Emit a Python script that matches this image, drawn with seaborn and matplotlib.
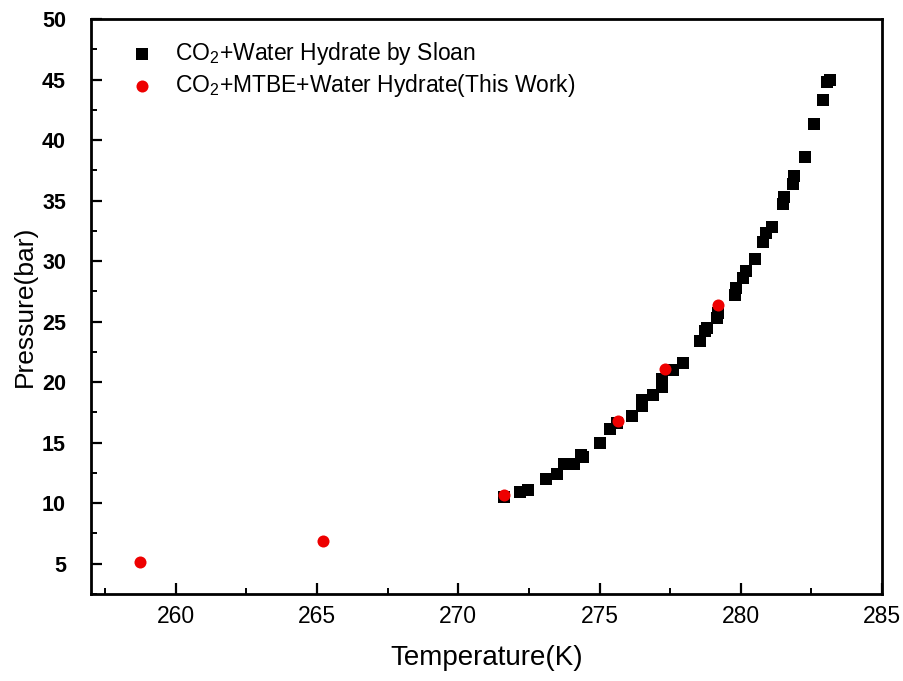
import matplotlib
matplotlib.use("Agg")
import matplotlib.pyplot as plt
import seaborn as sns
import pandas as pd
from matplotlib.ticker import MultipleLocator

# CO2 + water hydrate equilibrium data (Sloan)
sloan_T = [271.62, 272.19, 272.47, 273.11, 273.50, 273.73, 274.08, 274.33, 274.40,
           275.02, 275.37, 275.62, 276.15, 276.50, 276.52, 276.90, 277.20, 277.22,
           277.60, 277.96, 278.56, 278.73, 278.80, 279.16, 279.20, 279.80, 279.82,
           280.08, 280.19, 280.50, 280.80, 280.90, 281.10, 281.50, 281.52, 281.85,
           281.90, 282.27, 282.60, 282.90, 283.05, 283.15]
sloan_P = [10.5, 10.9, 11.1, 12.0, 12.4, 13.2, 13.2, 14.0, 13.8,
           15.0, 16.1, 16.6, 17.2, 18.0, 18.5, 18.9, 19.6, 20.3,
           21.0, 21.6, 23.4, 24.2, 24.5, 25.3, 25.7, 27.2, 27.8,
           28.6, 29.2, 30.2, 31.6, 32.3, 32.8, 34.7, 35.3, 36.4,
           37.0, 38.6, 41.3, 43.3, 44.8, 45.0]

# CO2 + MTBE + water hydrate (this work)
work_T = [258.75, 265.22, 271.62, 275.65, 277.32, 279.20]
work_P = [5.1, 6.85, 10.65, 16.8, 21.05, 26.4]

x_ticks = [260, 265, 270, 275, 280, 285]
y_ticks = [5, 10, 15, 20, 25, 30, 35, 40, 45, 50]

label_sloan = r"CO$_\mathregular{2}$+Water Hydrate by Sloan"
label_work = r"CO$_\mathregular{2}$+MTBE+Water Hydrate(This Work)"

sns.set_style("white")
plt.rcParams["font.family"] = ["Liberation Sans", "DejaVu Sans"]
plt.rcParams["mathtext.fontset"] = "custom"
plt.rcParams["mathtext.rm"] = "Liberation Sans"
plt.rcParams["mathtext.it"] = "Liberation Sans"
plt.rcParams["text.color"] = "black"
plt.rcParams["axes.labelcolor"] = "black"
plt.rcParams["xtick.color"] = "black"
plt.rcParams["ytick.color"] = "black"

df_sloan = pd.DataFrame({"T": sloan_T, "P": sloan_P})
df_work = pd.DataFrame({"T": work_T, "P": work_P})

fig = plt.figure(figsize=(9.04, 6.81), dpi=100)
ax = fig.add_axes([0.1007, 0.1278, 0.8750, 0.8443])

sns.scatterplot(data=df_sloan, x="T", y="P", ax=ax, marker="s", s=70,
                color="black", edgecolor="black", linewidth=0, label=label_sloan)
sns.scatterplot(data=df_work, x="T", y="P", ax=ax, marker="o", s=75,
                color="#ee0000", edgecolor="#ee0000", linewidth=0, label=label_work)

ax.set_xlim(257, 285)
ax.set_ylim(2.5, 50)
ax.set_xticks(x_ticks)
ax.set_yticks(y_ticks)
ax.xaxis.set_minor_locator(MultipleLocator(2.5))
ax.yaxis.set_minor_locator(MultipleLocator(2.5))

for sp in ax.spines.values():
    sp.set_linewidth(2.0)
    sp.set_color("black")

ax.tick_params(axis="both", which="major", direction="in", length=8, width=1.6,
               colors="black", bottom=True, left=True, top=False, right=False)
ax.tick_params(axis="both", which="minor", direction="in", length=4, width=1.4,
               bottom=True, left=True, top=False, right=False)
ax.tick_params(axis="y", which="major", pad=18)
ax.tick_params(axis="x", which="major", pad=8)

for lbl in ax.get_yticklabels():
    lbl.set_fontweight("bold")
    lbl.set_fontsize(15.5)
for lbl in ax.get_xticklabels():
    lbl.set_fontsize(16.5)

ax.set_xlabel("Temperature(K)", fontsize=20, labelpad=12)
ax.set_ylabel("Pressure(bar)", fontsize=19, labelpad=4)

leg = ax.legend(loc="upper left", bbox_to_anchor=(0.015, 0.992), frameon=False,
                fontsize=16.5, handletextpad=0.45, labelspacing=0.25,
                borderaxespad=0.3)
for t in leg.get_texts():
    t.set_color("black")

fig.savefig("out.png", dpi=100, facecolor="white")
